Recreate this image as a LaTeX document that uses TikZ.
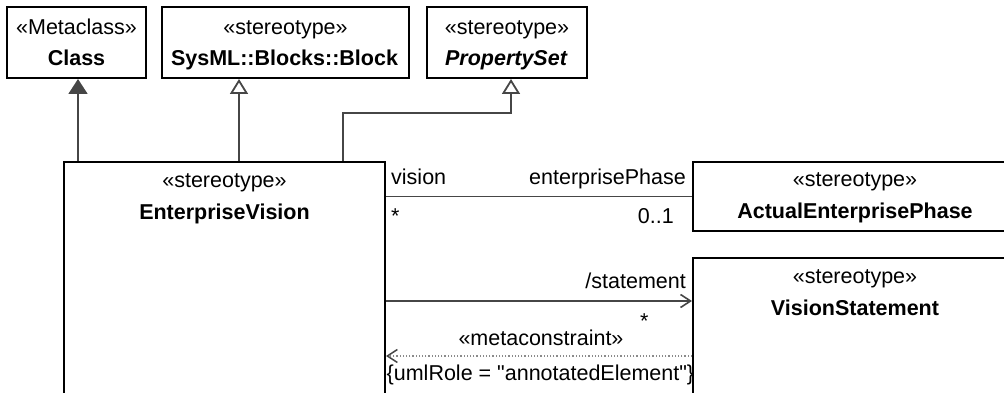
\documentclass[tikz,border=0pt]{standalone}
\usepackage{fontspec}
\setmainfont{Liberation Sans}
\newfontfamily\plainfont{Liberation Sans}
\usetikzlibrary{arrows.meta}
\definecolor{connc}{HTML}{464646}
\definecolor{dotc}{HTML}{8A8A8A}
\tikzset{
  umlbox/.style={draw=black, line width=2pt, fill=white, rectangle, inner sep=0pt},
  txt/.style={inner sep=0pt, font=\fontsize{21.5}{26}\selectfont},
  conn/.style={draw=connc, line width=1.8pt},
  genarrow/.style={conn, -{Triangle[length=15pt, width=18pt, fill=white, line width=1.8pt]}},
  extarrow/.style={conn, -{Triangle[length=15pt, width=19pt, fill=connc]}},
  navarrow/.style={conn, -{Straight Barb[length=10pt, width=13pt, line width=1.6pt]}},
  deparrow/.style={draw=dotc, line width=1.2pt, dotted, -{Straight Barb[length=10pt, width=13pt, line width=1.5pt, color=connc]}},
}
\begin{document}
\begin{tikzpicture}[x=1pt, y=-1pt]
\useasboundingbox (0,0) rectangle (1004,393);
\clip (0,0) rectangle (1004,393);
% boxes
\node[umlbox, minimum width=139pt, minimum height=71pt] (Class) at (76.5,42.5) {};
\node[umlbox, minimum width=247pt, minimum height=71pt] (Block) at (285.5,42.5) {};
\node[umlbox, minimum width=160pt, minimum height=71pt] (PS) at (507,42.5) {};
\node[umlbox, minimum width=321pt, minimum height=268pt] (EV) at (224.5,296) {};
\node[umlbox, minimum width=324pt, minimum height=69pt] (AEP) at (855,196.5) {};
\node[umlbox, minimum width=324pt, minimum height=172pt] (VS) at (855,344) {};
% box texts
\node[txt, anchor=base] (ClassSt) at (76.5,34.5) {«Metaclass»};
\node[txt, anchor=base, font=\fontsize{21.5}{26}\selectfont\bfseries] (ClassNm) at (76.5,65.5) {Class};
\node[txt, anchor=base] (BlockSt) at (285.5,34.5) {«stereotype»};
\node[txt, anchor=base, font=\fontsize{21.5}{26}\selectfont\bfseries] (BlockNm) at (284.5,65.5) {SysML::Blocks::Block};
\node[txt, anchor=base] (PSSt) at (507,34.5) {«stereotype»};
\node[txt, anchor=base, font=\fontsize{21.5}{26}\selectfont\bfseries\itshape] (PSNm) at (506,65.5) {PropertySet};
\node[txt, anchor=base] (EVSt) at (224.5,187) {«stereotype»};
\node[txt, anchor=base, font=\fontsize{21.5}{26}\selectfont\bfseries] (EVNm) at (224.5,219) {EnterpriseVision};
\node[txt, anchor=base] (AEPSt) at (855,186) {«stereotype»};
\node[txt, anchor=base, font=\fontsize{21.5}{26}\selectfont\bfseries] (AEPNm) at (855,218) {ActualEnterprisePhase};
\node[txt, anchor=base] (VSSt) at (855,283) {«stereotype»};
\node[txt, anchor=base, font=\fontsize{21.5}{26}\selectfont\bfseries] (VSNm) at (855,315.5) {VisionStatement};
% generalizations
\draw[extarrow] (EV.north -| 78,0) -- (Class.south -| 78,0);
\draw[genarrow] (EV.north -| 239,0) -- (Block.south -| 239,0);
\draw[genarrow] (EV.north -| 343,0) -- (343,113) -- (511,113) -- (PS.south -| 511,0);
% association
\draw[conn] (EV.east |- AEP.west) -- (AEP.west);
\node[txt, anchor=base west] (lvision) at (391,185) {vision};
\node[txt, anchor=base east] (lphase) at (686,185) {enterprisePhase};
\node[txt, anchor=base west] (lstar1) at (391,223) {*};
\node[txt, anchor=base east] (lmult) at (674,223) {0..1};
% navigable association
\draw[navarrow] (EV.east |- 0,301) -- (VS.west |- 0,301);
\node[txt, anchor=base east] (lstmt) at (686,288) {/statement};
\node[txt, anchor=base west] (lstar2) at (640,328) {*};
% metaconstraint dependency
\draw[deparrow] (VS.west |- 0,356) -- (EV.east |- 0,356);
\node[txt, anchor=base] (lmeta) at (541,345) {«metaconstraint»};
\node[txt, anchor=base west, font=\fontsize{21.5}{26}\plainfont] (lrole) at (386.5,380) {\{umlRole = "annotatedElement"\}};
\end{tikzpicture}
\end{document}
